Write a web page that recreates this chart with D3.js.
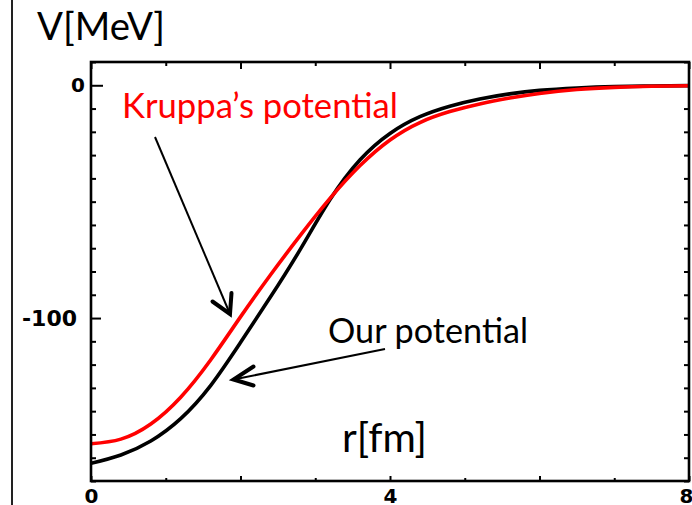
<!DOCTYPE html>
<html>
<head>
<meta charset="utf-8">
<script src="https://cdn.jsdelivr.net/npm/d3@7"></script>
<style>
  html, body { margin: 0; padding: 0; background: #fff; }
  svg { display: block; }
</style>
</head>
<body>
<svg id="chart" width="692" height="505"></svg>
<script>
// Radial grid (fm) and the two central potentials (MeV) on it
const radius = [0, 0.4, 0.8, 1.2, 1.6, 2.0, 2.4, 2.8, 3.2, 3.6, 4.0, 4.4, 4.8, 5.2, 5.6, 6.0, 6.5, 7.0, 7.5, 8.0];
const ourPotential = [-162.4, -158.8, -152.8, -143.2, -129, -110.5, -91, -70.5, -49, -32, -20.7, -13.5, -9, -5.9, -3.7, -2.2, -1.2, -0.6, -0.3, -0.15];
const kruppaPotential = [-154, -152, -145.5, -134, -118, -99.5, -81.5, -64.5, -48.5, -34.5, -23.5, -16, -11.3, -8, -5.5, -3.5, -1.8, -0.9, -0.45, -0.2];

// Axis settings
const xDomain = [0, 8];
const yDomain = [-170, 10];
const xTickValues = [0, 1, 2, 3, 4, 5, 6, 7, 8];
const xTickLabels = { 0: "0", 4: "4", 8: "8" };
const yTickValues = d3.range(-170, 11, 10);
const yTickLabels = { 0: "0", "-100": "-100" };

const svg = d3.select("#chart");
const plotLeft = 91, plotRight = 689, plotTop = 62, plotBottom = 481;

const x = d3.scaleLinear().domain(xDomain).range([plotLeft, plotRight]);
const y = d3.scaleLinear().domain(yDomain).range([plotBottom, plotTop]);

// thin rule along the left edge of the slide
svg.append("line")
  .attr("x1", 12).attr("x2", 12).attr("y1", 0).attr("y2", 505)
  .attr("stroke", "#222").attr("stroke-width", 2);

const tickFont = "'DejaVu Sans', sans-serif";

// left axis: ticks pointing inward, longer at labelled values
const yLeft = svg.append("g")
  .attr("transform", `translate(${plotLeft},0)`)
  .call(d3.axisLeft(y).tickValues(yTickValues).tickSize(-5).tickPadding(6)
    .tickFormat(d => yTickLabels[d] || ""));
yLeft.selectAll(".tick line")
  .attr("x2", d => d === 0 ? 12 : (d === -100 ? 10 : 5));
yLeft.selectAll(".tick text")
  .attr("x", d => d === -100 ? -14 : -6)
  .style("font-family", tickFont).style("font-weight", "bold")
  .style("font-size", d => d === -100 ? "22px" : "20px")
  .attr("fill", "#000");

// right axis
svg.append("g")
  .attr("transform", `translate(${plotRight},0)`)
  .call(d3.axisRight(y).tickValues(yTickValues).tickSize(-5).tickFormat(""));

// bottom axis
const xBottom = svg.append("g")
  .attr("transform", `translate(0,${plotBottom})`)
  .call(d3.axisBottom(x).tickValues(xTickValues).tickSize(-3).tickPadding(0)
    .tickFormat(d => xTickLabels[d] || ""));
xBottom.selectAll(".tick line").attr("y2", d => d % 2 === 0 ? -5 : -3);
xBottom.selectAll(".tick text")
  .attr("y", 22).attr("dy", 0)
  .attr("x", d => d === 8 ? -3 : 0)
  .style("font-family", tickFont).style("font-weight", "bold").style("font-size", "20px")
  .attr("fill", "#000");

// top axis
const xTop = svg.append("g")
  .attr("transform", `translate(0,${plotTop})`)
  .call(d3.axisTop(x).tickValues(xTickValues).tickSize(-4).tickFormat(""));
xTop.selectAll(".tick line").attr("y2", d => d % 2 === 0 ? 7 : 4);

svg.selectAll(".domain").remove();
svg.selectAll(".tick line").attr("stroke", "#000").attr("stroke-width", 2);

// potential curves
const series = [
  { name: "our", values: ourPotential, color: "#000000" },
  { name: "kruppa", values: kruppaPotential, color: "#ff0000" }
];
const line = d3.line()
  .x((d, i) => x(radius[i]))
  .y(d => y(d))
  .curve(d3.curveNatural);

svg.append("defs").append("clipPath").attr("id", "plot-area")
  .append("rect").attr("x", plotLeft).attr("y", plotTop)
  .attr("width", plotRight - plotLeft).attr("height", plotBottom - plotTop);

svg.append("g").attr("clip-path", "url(#plot-area)")
  .selectAll("path.curve")
  .data(series)
  .join("path")
  .attr("class", "curve")
  .attr("d", s => line(s.values))
  .attr("fill", "none")
  .attr("stroke", s => s.color)
  .attr("stroke-width", 3.6)
  .attr("stroke-linejoin", "round");

// plot frame
svg.append("rect")
  .attr("x", plotLeft).attr("y", plotTop)
  .attr("width", plotRight - plotLeft).attr("height", plotBottom - plotTop)
  .attr("fill", "none").attr("stroke", "#000").attr("stroke-width", 2.6);

// text labels, each fitted to its intended width
function label(text, xPos, baseline, width, color) {
  const t = svg.append("text")
    .attr("x", xPos).attr("y", baseline)
    .attr("fill", color)
    .style("font-family", "Lato, 'Open Sans', sans-serif")
    .style("font-size", "30px")
    .text(text);
  const w = t.node().getComputedTextLength();
  t.style("font-size", (30 * width / w).toFixed(2) + "px");
  return t;
}
label("V[MeV]", 37, 40, 128, "#000");
label("Kruppa\u2019s potential", 122, 118, 276, "#ff0000");
label("Our potential", 328, 342.5, 200, "#000");
label("r[fm]", 342, 451.5, 85, "#000");

// arrows pointing at the curves
const arrows = [
  { from: [155, 137], to: [230, 314], arms: [[212.5, 301.5], [231.5, 293]] },
  { from: [385, 349], to: [233.5, 379.5], arms: [[253.5, 366.5], [253.5, 385.5]] }
];
const ag = svg.append("g");
arrows.forEach(a => {
  ag.append("line")
    .attr("x1", a.from[0]).attr("y1", a.from[1])
    .attr("x2", a.to[0]).attr("y2", a.to[1])
    .attr("stroke", "#000").attr("stroke-width", 2);
  ag.append("path")
    .attr("d", `M${a.arms[0][0]},${a.arms[0][1]}L${a.to[0]},${a.to[1]}L${a.arms[1][0]},${a.arms[1][1]}`)
    .attr("fill", "none").attr("stroke", "#000").attr("stroke-width", 4)
    .attr("stroke-linecap", "round").attr("stroke-linejoin", "miter");
});
</script>
</body>
</html>
